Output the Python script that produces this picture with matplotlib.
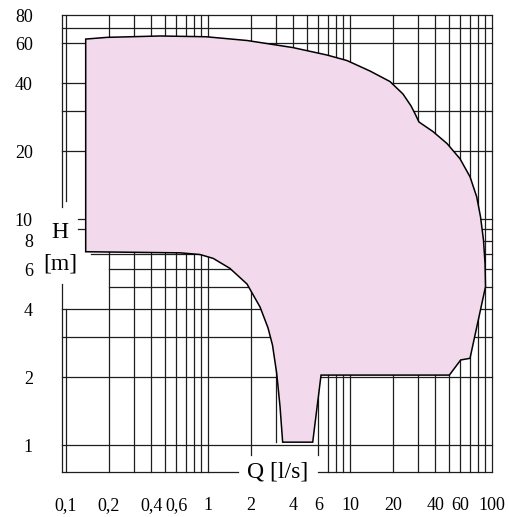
import matplotlib
matplotlib.use('Agg')
import matplotlib.pyplot as plt
from matplotlib.ticker import NullLocator

# operating field of the pump series, Q in l/s, H in m (clockwise from top left)
field_q = [0.138, 0.195, 0.46, 0.97, 1.886, 3.97, 6.9, 9.53, 13.85, 19.15,
           23.6, 26.9, 28.7, 30.6, 38.4, 48.2, 59.5, 70.0, 78.0, 83.0,
           87.1, 89.3, 90.0, 70.0, 60.2, 50.1, 6.26, 5.47, 3.36, 3.22,
           3.05, 2.85, 2.65, 2.33, 1.886, 1.43, 1.09, 0.88, 0.636, 0.138]
field_h = [62.6, 63.7, 64.6, 64.1, 61.7, 57.4, 53.2, 50.3, 45.2, 40.6,
           35.8, 31.7, 29.3, 26.9, 24.4, 21.6, 18.5, 15.4, 12.56, 10.25,
           8.08, 6.39, 5.02, 2.42, 2.38, 2.04, 2.04, 1.03, 1.03, 1.48,
           2.08, 2.77, 3.30, 4.08, 5.16, 6.05, 6.70, 6.97, 7.09, 7.17]

q_ticks = [0.1, 0.2, 0.4, 0.6, 1, 2, 4, 6, 10, 20, 40, 60, 100]
q_labels = ['0,1', '0,2', '0,4', '0,6', '1', '2', '4', '6', '10', '20', '40', '60', '100']
h_ticks = [1, 2, 4, 6, 8, 10, 20, 40, 60, 80]
h_labels = ['1', '2', '4', '6', '8', '10', '20', '40', '60', '80']

q_grid = [m * d for d in (0.1, 1, 10) for m in range(1, 10)] + [100]
h_grid = [1, 2, 3, 4, 5, 6, 7, 8, 9, 10, 20, 30, 40, 60, 70, 80]

QMIN, QMAX = 0.094, 100
HMIN, HMAX = 0.76, 80

# pieces of grid left out around the axis titles
v_gaps = {QMIN: [(5.15, 11.3)], 0.1: [(4.0, 12.0)], 2: [(HMIN, 0.9)],
          3: [(HMIN, 1.03)], 4: [(HMIN, 1.05)], 5: [(HMIN, 1.05)],
          6: [(HMIN, 0.9)]}
h_gaps = {10: [(QMIN, 0.122)], 9: [(QMIN, 0.122)], 8: [(QMIN, 0.15)],
          7: [(QMIN, 0.15)], 6: [(QMIN, 0.2)], 5: [(QMIN, 0.2)],
          HMIN: [(1.63, 6.0)]}


def pieces(lo, hi, gaps):
    out = []
    start = lo
    for g0, g1 in sorted(gaps):
        if g0 > start:
            out.append((start, g0))
        start = max(start, g1)
    if start < hi:
        out.append((start, hi))
    return out


fig = plt.figure(figsize=(5.1, 5.17), dpi=100)
ax = fig.add_axes([62 / 510, 45 / 517, 430 / 510, 457 / 517])
ax.set_xscale('log')
ax.set_yscale('log')
ax.set_xlim(QMIN, QMAX)
ax.set_ylim(HMIN, HMAX)
for s in ax.spines.values():
    s.set_visible(False)

grid_kw = dict(color='#1e1e1e', linewidth=0.9, clip_on=False, zorder=1)
for q in [QMIN] + q_grid:
    for a, b in pieces(HMIN, HMAX, v_gaps.get(q, [])):
        ax.plot([q, q], [a, b], **grid_kw)
for h in [HMIN] + h_grid:
    for a, b in pieces(QMIN, QMAX, h_gaps.get(h, [])):
        ax.plot([a, b], [h, h], **grid_kw)

ax.fill(field_q, field_h, facecolor='#f2d9ec', edgecolor='black',
        linewidth=1.1, zorder=3)

ax.set_xticks(q_ticks, q_labels)
ax.set_yticks(h_ticks, h_labels)
ax.xaxis.set_minor_locator(NullLocator())
ax.yaxis.set_minor_locator(NullLocator())
ax.tick_params(length=0, labelsize=13, labelfontfamily='Liberation Serif')
ax.tick_params(axis='x', pad=18)
ax.tick_params(axis='y', pad=21)

title_kw = dict(fontsize=17, family='Liberation Serif', ha='center', va='center')
fig.text(60 / 510, 1 - 232 / 517, 'H', **title_kw)
fig.text(60 / 510, 1 - 264 / 517, '[m]', **title_kw)
fig.text(278 / 510, 1 - 472 / 517, 'Q [l/s]', **title_kw)

fig.savefig('out.png', dpi=100)
